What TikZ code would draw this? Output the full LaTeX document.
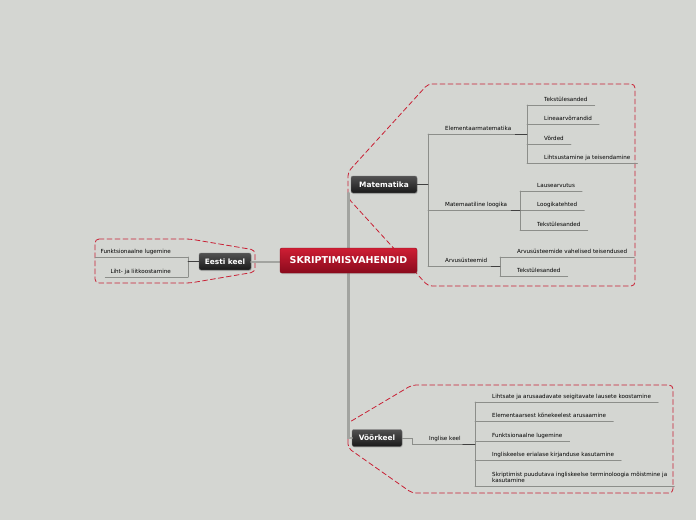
\documentclass[tikz,border=0pt]{standalone}
\usepackage{fontspec}
\setmainfont{DejaVu Sans}
\usetikzlibrary{shadows}
\definecolor{bg}{RGB}{212,214,210}
\definecolor{stemgray}{RGB}{140,142,138}
\definecolor{trunkgray}{RGB}{162,164,160}
\definecolor{zonered}{RGB}{200,32,52}
\definecolor{topred}{RGB}{206,30,52}
\definecolor{botred}{RGB}{138,10,28}
\tikzset{
  topic/.style={rounded corners=2pt,text=white,draw=black!55,line width=.4pt,
    top color=black!68,bottom color=black!90,inner sep=0pt,minimum height=17pt,
    font=\bfseries\fontsize{7.4}{8}\selectfont,
    drop shadow={shadow xshift=.6pt,shadow yshift=-1pt,opacity=.3}},
  root/.style={topic,draw=botred,top color=topred,bottom color=botred,
    minimum width=137pt,minimum height=25pt,font=\bfseries\fontsize{9.5}{10}\selectfont},
  leaf/.style={inner xsep=0pt,inner ysep=3pt,text depth=0pt,align=left,
    font=\fontsize{5.6}{6.4}\selectfont},
  stem/.style={stemgray,line width=.7pt},
  knot/.style={black!75,line width=.9pt},
  trunk/.style={trunkgray,line width=2.6pt},
  zone/.style={zonered,line width=.8pt,dash pattern=on 5pt off 3pt,rounded corners=4pt}
}
\begin{document}
\begin{tikzpicture}[x=1pt,y=-1pt,line cap=round]
\def\ind{17pt}
\fill[bg] (0,0) rectangle (696,520);
\useasboundingbox (0,0) rectangle (696,520);

% dashed zones
\draw[zone] (348,198) -- (348,172) -- (428,84) -- (635,84) -- (635,286) -- (428,286) -- cycle;
\draw[zone] (95,239) -- (190,239) -- (255,250) -- (255,272) -- (190,283) -- (95,283) -- cycle;
\draw[zone] (348,448) -- (348,423) -- (412,385) -- (673,385) -- (673,493) -- (412,493) -- cycle;

\node[topic,minimum width=66pt] (mat) at (384,184.5) {Matematika};
\node[topic,minimum width=52pt] (eesti) at (225,261.5) {Eesti keel};
\node[topic,minimum width=50pt] (voor) at (377,438) {Võõrkeel};

\draw[trunk] (348.5,250) -- (348.5,193);
\draw[trunk] (348.5,270) -- (348.5,438) -- (voor.west);
\draw[trunk,line width=2pt] (eesti.east) -- (290,261.5);
\node[root] (root) at (348.5,260.5) {SKRIPTIMISVAHENDID};

% Matematika
\foreach \y/\t [count=\k] in {134/Elementaarmatematika,210/Matemaatiline loogika,266/Arvusüsteemid} {
  \node[leaf,anchor=south west] (mb\k) at (445,\y) {\t};
  \draw[stem] ([xshift=-\ind]mb\k.south west) -- ([xshift=4pt]mb\k.south east);
}
\draw[stem] ([xshift=-\ind]mb1.south west) -- ([xshift=-\ind]mb3.south west);
\draw[knot] (mat.east) -- (428,184.5);

\foreach \y/\t [count=\k] in {105/Tekstülesanded,124/Lineaarvõrrandid,144/Võrded,163/Lihtsustamine ja teisendamine} {
  \node[leaf,anchor=south west] (ea\k) at (544,\y) {\t};
  \draw[stem] ([xshift=-\ind]ea\k.south west) -- ([xshift=7pt]ea\k.south east);
}
\draw[stem] ([xshift=-\ind]ea1.south west) -- ([xshift=-\ind]ea4.south west);
\draw[knot] ([xshift=4pt]mb1.south east) -- ([xshift=-\ind]ea1.south west |- mb1.south);

\foreach \y/\t [count=\k] in {191/Lausearvutus,210/Loogikatehted,230/Tekstülesanded} {
  \node[leaf,anchor=south west] (lo\k) at (537,\y) {\t};
  \draw[stem] ([xshift=-\ind]lo\k.south west) -- ([xshift=7pt]lo\k.south east);
}
\draw[stem] ([xshift=-\ind]lo1.south west) -- ([xshift=-\ind]lo3.south west);
\draw[knot] ([xshift=4pt]mb2.south east) -- ([xshift=-\ind]lo1.south west |- mb2.south);

\foreach \y/\t [count=\k] in {257/Arvusüsteemide vahelised teisendused,276/Tekstülesanded} {
  \node[leaf,anchor=south west] (ar\k) at (517,\y) {\t};
  \draw[stem] ([xshift=-\ind]ar\k.south west) -- ([xshift=7pt]ar\k.south east);
}
\draw[stem] ([xshift=-\ind]ar1.south west) -- ([xshift=-\ind]ar2.south west);
\draw[knot] ([xshift=4pt]mb3.south east) -- ([xshift=-\ind]ar1.south west |- mb3.south);

% Eesti keel
\foreach \y/\t [count=\k] in {257/Funktsionaalne lugemine,277/Liht- ja liitkoostamine} {
  \node[leaf,anchor=south east] (ek\k) at (171,\y) {\t};
  \draw[stem] ([xshift=-5pt]ek\k.south west) -- ([xshift=\ind]ek\k.south east);
}
\draw[stem] ([xshift=\ind]ek1.south east) -- ([xshift=\ind]ek2.south east);
\draw[knot] (eesti.west) -- (188,261.5);

% Võõrkeel
\node[leaf,anchor=south west] (ik) at (429,444) {Inglise keel};
\draw[stem] (voor.east) -- (412,438) -- ([xshift=-\ind]ik.south west) -- ([xshift=2pt]ik.south east);
\foreach \y/\t [count=\k] in {402/Lihtsate ja arusaadavate seigitavate lausete koostamine,
  421/Elementaarsest kõnekeelest arusaamine,441/Funktsionaalne lugemine,
  460/Ingliskeelse erialase kirjanduse kasutamine,
  486/{Skriptimist puudutava ingliskeelse terminoloogia mõistmine ja\\kasutamine}} {
  \node[leaf,anchor=south west] (vk\k) at (492,\y) {\t};
  \draw[stem] ([xshift=-\ind]vk\k.south west) -- ([xshift=7pt]vk\k.south east);
}
\draw[stem] ([xshift=-\ind]vk1.south west) -- ([xshift=-\ind]vk5.south west);
\draw[knot] ([xshift=2pt]ik.south east) -- ([xshift=-\ind]vk1.south west |- ik.south);
\end{tikzpicture}
\end{document}
